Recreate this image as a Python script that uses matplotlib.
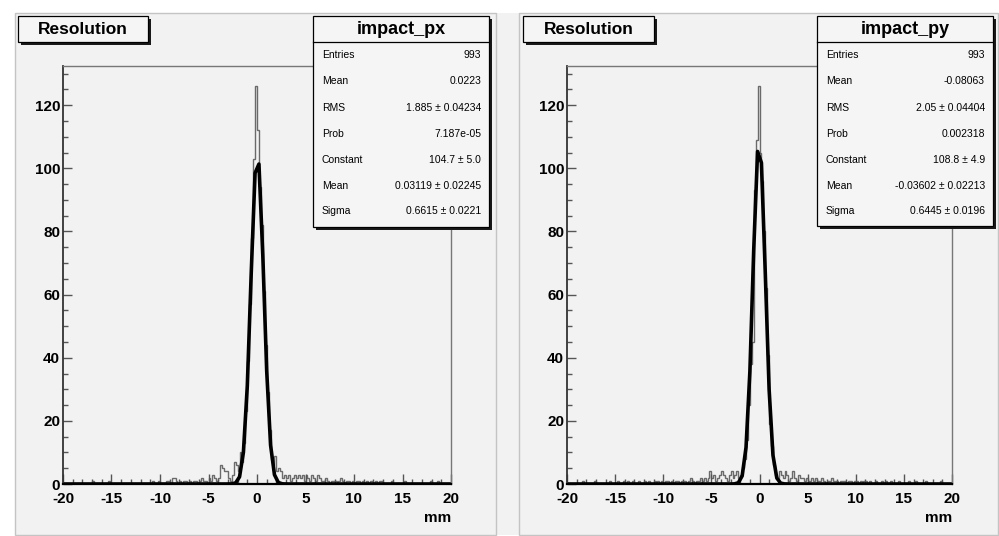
import numpy as np
import matplotlib
matplotlib.use('Agg')
import matplotlib.pyplot as plt
from matplotlib.patches import Rectangle
from matplotlib.lines import Line2D

# histogram: 200 bins of 0.2 mm from -20 to 20
bin_edges = np.linspace(-20, 20, 201)

counts_px = [
    0, 0, 0, 0, 0, 0, 0, 0, 0, 0,        # -20 .. -18
    0, 0, 0, 0, 0, 1, 0, 0, 0, 0,        # -18 .. -16
    0, 0, 0, 1, 0, 0, 0, 0, 0, 0,        # -16 .. -14
    0, 0, 0, 0, 0, 0, 0, 0, 0, 0,        # -14 .. -12
    0, 0, 0, 0, 0, 0, 1, 0, 0, 1,        # -12 .. -10
    0, 0, 0, 1, 1, 0, 2, 2, 1, 0,        # -10 .. -8
    1, 0, 1, 1, 0, 1, 0, 1, 1, 0,        # -8 .. -6
    1, 2, 1, 1, 0, 2, 1, 3, 2, 1,        # -6 .. -4
    2, 6, 5, 4, 4, 2, 1, 3, 7, 6,        # -4 .. -2
    4, 10, 7, 13, 23, 39, 57, 78, 103, 126,   # -2 .. 0
    112, 94, 82, 61, 44, 29, 17, 8, 6, 9,     # 0 .. 2
    4, 5, 4, 2, 3, 2, 3, 1, 2, 3,        # 2 .. 4
    2, 3, 2, 3, 1, 3, 2, 1, 3, 2,        # 4 .. 6
    1, 3, 2, 1, 1, 2, 1, 0, 1, 1,        # 6 .. 8
    1, 0, 1, 2, 1, 0, 1, 1, 0, 1,        # 8 .. 10
    0, 1, 1, 0, 1, 0, 1, 0, 1, 1,        # 10 .. 12
    0, 1, 0, 1, 1, 0, 0, 0, 0, 1,        # 12 .. 14
    0, 0, 0, 0, 0, 0, 1, 0, 0, 0,        # 14 .. 16
    0, 0, 0, 0, 0, 0, 0, 0, 0, 1,        # 16 .. 18
    0, 0, 0, 1, 0, 0, 0, 0, 0, 0,        # 18 .. 20
]

counts_py = [
    0, 0, 0, 0, 0, 0, 0, 0, 1, 0,
    0, 0, 0, 0, 1, 0, 0, 0, 0, 0,
    0, 0, 1, 0, 0, 0, 1, 0, 0, 1,
    0, 1, 0, 0, 1, 0, 0, 1, 0, 0,
    1, 0, 1, 0, 0, 1, 0, 1, 0, 1,
    0, 1, 1, 0, 1, 0, 1, 1, 0, 1,
    1, 1, 0, 1, 2, 1, 0, 1, 1, 2,
    1, 2, 1, 2, 4, 2, 3, 1, 2, 3,
    4, 3, 2, 1, 3, 4, 2, 3, 4, 2,
    3, 5, 8, 14, 25, 38, 45, 93, 109, 126,
    105, 96, 80, 62, 41, 19, 12, 6, 3, 2,
    4, 3, 2, 4, 3, 1, 2, 4, 2, 1,
    3, 2, 2, 1, 2, 1, 1, 2, 1, 2,
    1, 1, 2, 1, 0, 1, 1, 2, 1, 1,
    1, 0, 1, 1, 1, 0, 1, 1, 0, 1,
    1, 0, 1, 0, 1, 1, 0, 1, 0, 0,
    1, 0, 0, 1, 0, 1, 0, 0, 1, 0,
    0, 0, 1, 0, 0, 0, 0, 1, 0, 0,
    0, 1, 0, 0, 0, 0, 1, 0, 0, 0,
    0, 0, 0, 0, 1, 0, 0, 0, 0, 0,
]

# gaussian fit parameters (constant, mean, sigma)
fit_px = (104.7, 0.03119, 0.6615)
fit_py = (108.8, -0.03602, 0.6445)

stats_px = [("Entries", "993"), ("Mean", "0.0223"), ("RMS", "1.885 \u00b1 0.04234"),
            ("Prob", "7.187e-05"), ("Constant", "104.7 \u00b1 5.0"),
            ("Mean", "0.03119 \u00b1 0.02245"), ("Sigma", "0.6615 \u00b1 0.0221")]
stats_py = [("Entries", "993"), ("Mean", "-0.08063"), ("RMS", "2.05 \u00b1 0.04404"),
            ("Prob", "0.002318"), ("Constant", "108.8 \u00b1 4.9"),
            ("Mean", "-0.03602 \u00b1 0.02213"), ("Sigma", "0.6445 \u00b1 0.0196")]

W, H = 999, 536
BG = "#f2f2f2"
plt.rcParams["font.family"] = ["Liberation Sans", "DejaVu Sans"]
plt.rcParams["axes.unicode_minus"] = False

fig = plt.figure(figsize=(W / 100, H / 100), dpi=100)
fig.patch.set_facecolor("white")


def fx(x):
    return x / W


def fy(y):
    return 1 - y / H


def rect(x0, y0, x1, y1, **kw):
    r = Rectangle((fx(x0), fy(y1)), fx(x1) - fx(x0), fy(y0) - fy(y1),
                  transform=fig.transFigure, **kw)
    fig.add_artist(r)
    return r


def shadow_box(x0, y0, x1, y1):
    rect(x0 + 3, y0 + 3, x1 + 3, y1 + 3, facecolor="#1a1a1a", edgecolor="none", zorder=5)
    rect(x0, y0, x1, y1, facecolor="#f5f5f5", edgecolor="black", linewidth=0.9, zorder=6)


# panel backgrounds
rect(15, 13, 998, 535, facecolor=BG, edgecolor="none", zorder=-2)
rect(15, 13, 496, 535, facecolor="none", edgecolor="#c4c4c4", linewidth=1.0, zorder=-1)
rect(519, 13, 998, 535, facecolor="none", edgecolor="#c4c4c4", linewidth=1.0, zorder=-1)

panels = [
    dict(x0=63, x1=451, counts=counts_px, fit=fit_px, name="impact_px", stats=stats_px,
         title_box=(18, 16, 148, 42), stat_box=(313, 16, 489, 227)),
    dict(x0=567, x1=952, counts=counts_py, fit=fit_py, name="impact_py", stats=stats_py,
         title_box=(523, 16, 654, 42), stat_box=(817, 16, 993, 226)),
]

y_top, y_bot = 66, 484
x_fit = np.arange(-19.8, 20.0, 0.4)

for p in panels:
    ax = fig.add_axes([fx(p["x0"]), fy(y_bot), fx(p["x1"]) - fx(p["x0"]), (y_bot - y_top) / H])
    ax.set_facecolor(BG)
    ax.stairs(p["counts"], bin_edges, color="#6a6a6a", linewidth=1.0)
    a, m, s = p["fit"]
    ax.plot(x_fit, a * np.exp(-0.5 * ((x_fit - m) / s) ** 2), color="black", linewidth=2.6)
    ax.set_xlim(-20, 20)
    ax.set_ylim(0, 132.4)
    ax.set_xticks(np.arange(-20, 21, 5))
    ax.set_xticks(np.arange(-20, 21, 1), minor=True)
    ax.set_yticks(np.arange(0, 121, 20))
    ax.set_yticks(np.arange(0, 131, 5), minor=True)
    ax.tick_params(axis="x", which="major", direction="in", length=7.5, width=1, pad=6,
                   labelsize=11, color="#555555")
    ax.tick_params(axis="x", which="minor", direction="in", length=3.5, width=1, color="#555555")
    ax.tick_params(axis="y", which="major", direction="in", length=6.5, width=1, pad=2,
                   labelsize=11, color="#555555")
    ax.tick_params(axis="y", which="minor", direction="in", length=3.3, width=1, color="#555555")
    for lab in ax.get_xticklabels() + ax.get_yticklabels():
        lab.set_fontweight("bold")
    ax.spines["left"].set_color("#333333")
    ax.spines["left"].set_linewidth(1.3)
    ax.spines["bottom"].set_color("black")
    ax.spines["bottom"].set_linewidth(1.6)
    for side in ("top", "right"):
        ax.spines[side].set_color("#777777")
        ax.spines[side].set_linewidth(1.0)

    fig.text(fx(p["x1"]), fy(518), "mm", ha="right", va="center", fontsize=11,
             fontweight="bold")

    # title box
    tx0, ty0, tx1, ty1 = p["title_box"]
    shadow_box(tx0, ty0, tx1, ty1)
    fig.text(fx((tx0 + tx1) / 2), fy((ty0 + ty1) / 2), "Resolution", ha="center",
             va="center", fontsize=12.5, fontweight="bold", zorder=7)

    # stats box
    sx0, sy0, sx1, sy1 = p["stat_box"]
    shadow_box(sx0, sy0, sx1, sy1)
    fig.add_artist(Line2D([fx(sx0), fx(sx1)], [fy(42), fy(42)], transform=fig.transFigure,
                          color="black", linewidth=0.9, zorder=7))
    fig.text(fx((sx0 + sx1) / 2), fy(29), p["name"], ha="center", va="center",
             fontsize=13, fontweight="bold", zorder=7)
    row_y = [55, 81.5, 108, 134, 160, 186, 211]
    for (lab, val), ry in zip(p["stats"], row_y):
        fig.text(fx(sx0 + 9), fy(ry), lab, ha="left", va="center", fontsize=7.5, zorder=7)
        fig.text(fx(sx1 - 8), fy(ry), val, ha="right", va="center", fontsize=7.5, zorder=7)

fig.savefig("out.png", dpi=100)
